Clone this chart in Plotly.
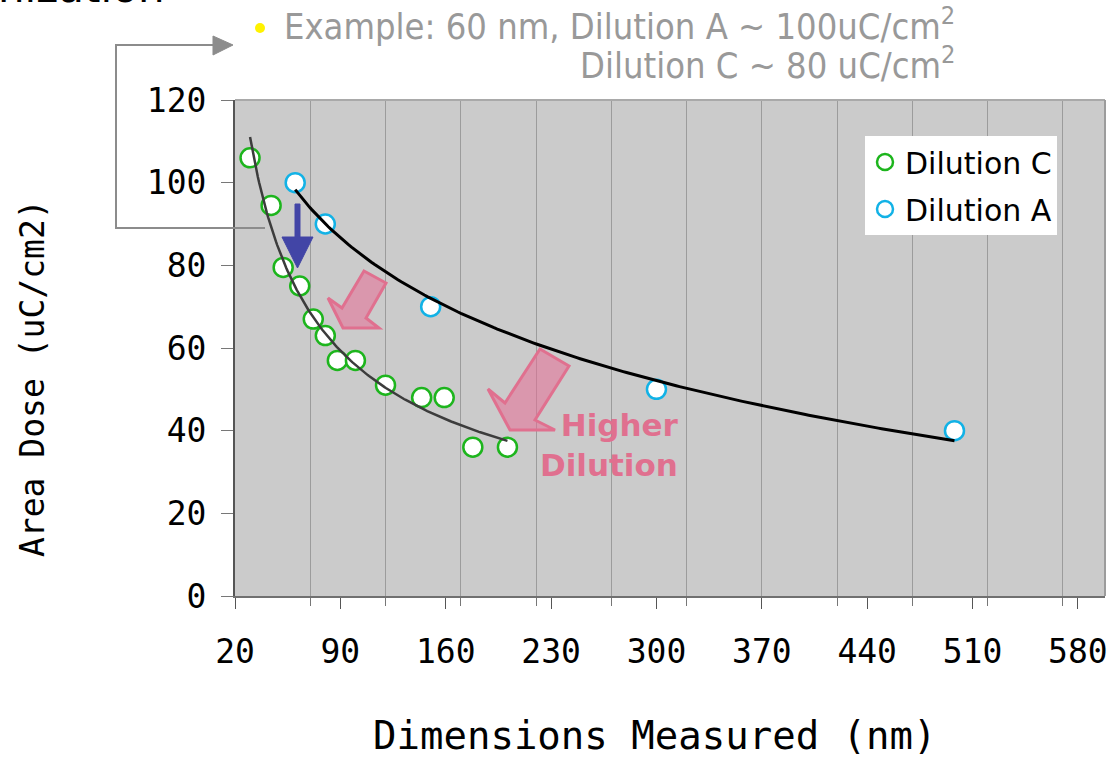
import numpy as np
import plotly.graph_objects as go

# ---------------- data ----------------
dilution_c_nm = [30, 44, 52, 63, 72, 80, 88, 100, 120, 144, 159, 178, 201]
dilution_c_dose = [106, 94.5, 79.5, 75, 67, 63, 57, 57, 51, 48, 48, 36, 36]
dilution_a_nm = [60, 80, 150, 300, 498]
dilution_a_dose = [100, 90, 70, 50, 40]
x_tick_values = [20, 90, 160, 230, 300, 370, 440, 510, 580]
y_tick_values = [0, 20, 40, 60, 80, 100, 120]

GREEN = "#1DB51D"
CYAN = "#12B2E6"
PINK = "#E0708F"
MONO = "DejaVu Sans Mono, monospace"

# plot-area geometry in page pixels (used only for decorations)
L, R, T, B = 235, 1105, 100, 596
def px(x):
    return (x - L) / (R - L)
def py(y):
    return (B - y) / (B - T)

fig = go.Figure()
fig.add_trace(go.Scatter(
    x=dilution_c_nm, y=dilution_c_dose, mode="markers", name="Dilution C",
    legendgroup="c",
    marker=dict(symbol="circle", size=19, color="white",
                line=dict(color=GREEN, width=2.5)),
))
fig.add_trace(go.Scatter(
    x=dilution_a_nm, y=dilution_a_dose, mode="markers", name="Dilution A",
    legendgroup="a",
    marker=dict(symbol="circle", size=19, color="white",
                line=dict(color=CYAN, width=2.5)),
))

# trendlines fitted from the data
xc = np.array(dilution_c_nm, float)
yc = np.array(dilution_c_dose, float)
b_c, lna_c = np.polyfit(np.log(xc), np.log(yc), 1)
xs_c = np.linspace(xc.min(), xc.max(), 200)
fig.add_trace(go.Scatter(x=xs_c, y=np.exp(lna_c) * xs_c ** b_c, mode="lines",
                         line=dict(color="#3c3c3c", width=2.5),
                         showlegend=False, hoverinfo="skip"))

xa = np.array(dilution_a_nm, float)
ya = np.array(dilution_a_dose, float)
m_a, c_a = np.polyfit(np.log(xa), ya, 1)
xs_a = np.linspace(xa.min(), xa.max(), 200)
fig.add_trace(go.Scatter(x=xs_a, y=m_a * np.log(xs_a) + c_a, mode="lines",
                         line=dict(color="black", width=3),
                         showlegend=False, hoverinfo="skip"))

# ---------------- decorations ----------------
def poly(points):
    s = "M " + " L ".join(f"{px(x):.5f},{py(y):.5f}" for x, y in points) + " Z"
    return s

shapes = []
# top/right light borders
shapes.append(dict(type="line", xref="paper", yref="paper", x0=0, x1=1, y0=1, y1=1,
                   line=dict(color="#A9A9A9", width=2)))
shapes.append(dict(type="line", xref="paper", yref="paper", x0=1, x1=1, y0=0, y1=1,
                   line=dict(color="#9C9C9C", width=2)))
# pink block arrows
shapes.append(dict(type="path", xref="paper", yref="paper",
                   path=poly([(364, 271), (386, 283), (366, 318), (379, 328),
                              (343, 328), (328, 298), (342, 308)]),
                   fillcolor="rgba(232,110,150,0.55)", line=dict(color=PINK, width=3)))
shapes.append(dict(type="path", xref="paper", yref="paper",
                   path=poly([(540, 349), (569, 366), (535, 420), (555, 430),
                              (510, 430), (488, 389), (505, 403)]),
                   fillcolor="rgba(232,110,150,0.55)", line=dict(color=PINK, width=3)))
# blue down arrow
shapes.append(dict(type="path", xref="paper", yref="paper",
                   path=poly([(295, 204), (300, 204), (300, 237), (313, 237),
                              (297.5, 268), (282, 237), (295, 237)]),
                   fillcolor="#4245A6", line=dict(color="#4245A6", width=1)))
# gray bracket arrow
shapes.append(dict(type="path", xref="paper", yref="paper",
                   path=f"M {px(265):.5f},{py(228):.5f} L {px(116):.5f},{py(228):.5f} "
                        f"L {px(116):.5f},{py(45):.5f} L {px(214):.5f},{py(45):.5f}",
                   line=dict(color="#8C8C8C", width=2)))
shapes.append(dict(type="path", xref="paper", yref="paper",
                   path=poly([(213, 36), (233, 45), (213, 55)]),
                   fillcolor="#8C8C8C", line=dict(color="#8C8C8C", width=1)))
# yellow bullet
shapes.append(dict(type="circle", xref="paper", yref="paper",
                   x0=px(255), x1=px(265), y0=py(33), y1=py(23),
                   fillcolor="#FFF200", line=dict(color="#FFF200", width=0)))

annotations = [
    dict(text="nization", xref="paper", yref="paper", x=px(-4), y=py(14),
         xanchor="left", yanchor="bottom", showarrow=False,
         font=dict(family="DejaVu Sans", size=42, color="black")),
    dict(text="Example: 60 nm, Dilution A ~ 100uC/cm<sup>2</sup>", xref="paper", yref="paper",
         x=px(957), y=py(24), xanchor="right", yanchor="middle", showarrow=False,
         font=dict(family="DejaVu Sans Condensed, Liberation Sans", size=36, color="#999999")),
    dict(text="Dilution C ~ 80 uC/cm<sup>2</sup>", xref="paper", yref="paper",
         x=px(957), y=py(63), xanchor="right", yanchor="middle", showarrow=False,
         font=dict(family="DejaVu Sans Condensed, Liberation Sans", size=36, color="#999999")),
    dict(text="<b>Higher</b><br><b>Dilution</b>", xref="paper", yref="paper",
         x=px(681), y=py(445), xanchor="right", yanchor="middle", align="right",
         showarrow=False, font=dict(family="DejaVu Sans", size=31, color=PINK)),
    dict(text="Dimensions Measured (nm)", xref="paper", yref="paper",
         x=px(655), y=py(735), xanchor="center", yanchor="middle", showarrow=False,
         font=dict(family=MONO, size=39, color="black")),
    dict(text="Area Dose (uC/cm2)", xref="paper", yref="paper", textangle=-90,
         x=px(32), y=py(378), xanchor="center", yanchor="middle", showarrow=False,
         font=dict(family=MONO, size=33, color="black")),
]

fig.update_layout(
    width=1119, height=758,
    margin=dict(l=L, r=1119 - R, t=T, b=758 - B, pad=0),
    paper_bgcolor="white", plot_bgcolor="#CBCBCB",
    shapes=shapes, annotations=annotations,
    showlegend=True,
    legend=dict(x=px(865), y=py(136), xanchor="left", yanchor="top",
                bgcolor="white", borderwidth=0, tracegroupgap=5,
                font=dict(family="DejaVu Sans", size=30, color="black")),
    xaxis=dict(range=[20, 598], tickmode="array", tickvals=x_tick_values,
               ticks="outside", ticklen=11, tickwidth=1, tickcolor="#555555",
               showgrid=False, zeroline=False, showline=True,
               linecolor="#707070", linewidth=2, ticklabelstandoff=14,
               tickfont=dict(family=MONO, size=33, color="black"),
               minor=dict(tickmode="linear", tick0=20, dtick=50, ticks="outside",
                          ticklen=8, tickcolor="#777777", showgrid=True,
                          gridcolor="#9C9C9C", gridwidth=1)),
    yaxis=dict(range=[0, 120], tickmode="array", tickvals=y_tick_values,
               ticks="outside", ticklen=12, tickwidth=1, tickcolor="#777777",
               showgrid=False, zeroline=False, showline=True,
               linecolor="#555555", linewidth=2, ticklabelstandoff=8,
               tickfont=dict(family=MONO, size=33, color="black")),
)

fig.write_html("out.html")
